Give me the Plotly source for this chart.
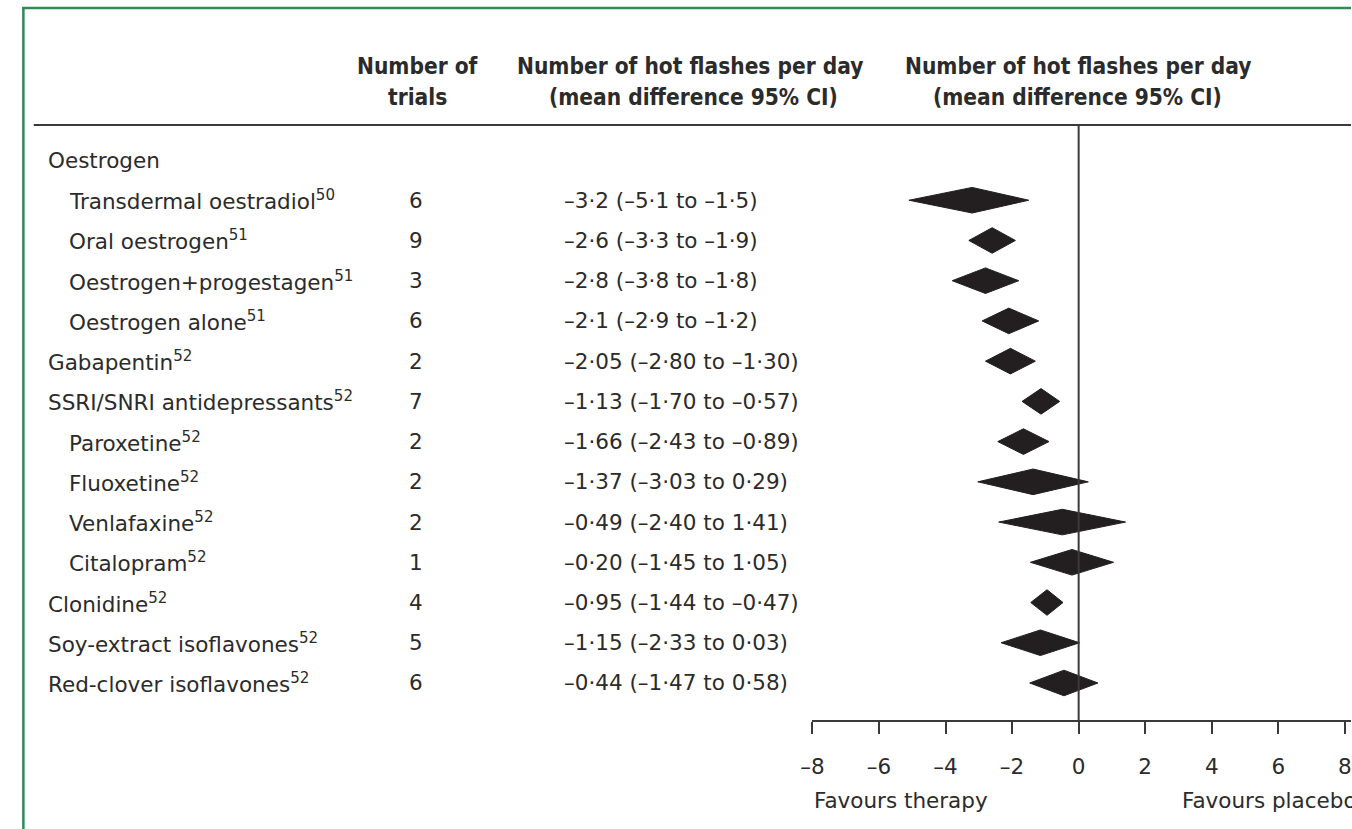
import plotly.graph_objects as go

# ---------------- data ----------------
labels = ["Oestrogen", "Transdermal oestradiol", "Oral oestrogen", "Oestrogen+progestagen",
          "Oestrogen alone", "Gabapentin", "SSRI/SNRI antidepressants", "Paroxetine",
          "Fluoxetine", "Venlafaxine", "Citalopram", "Clonidine",
          "Soy-extract isoflavones", "Red-clover isoflavones"]
refs = ["", "50", "51", "51", "51", "52", "52", "52", "52", "52", "52", "52", "52", "52"]
indent = [0, 1, 1, 1, 1, 0, 0, 1, 1, 1, 1, 0, 0, 0]
n_trials = ["", "6", "9", "3", "6", "2", "7", "2", "2", "2", "1", "4", "5", "6"]
mean_diff = [None, -3.2, -2.6, -2.8, -2.1, -2.05, -1.13, -1.66, -1.37, -0.49, -0.20, -0.95, -1.15, -0.44]
ci_low = [None, -5.1, -3.3, -3.8, -2.9, -2.80, -1.70, -2.43, -3.03, -2.40, -1.45, -1.44, -2.33, -1.47]
ci_high = [None, -1.5, -1.9, -1.8, -1.2, -1.30, -0.57, -0.89, 0.29, 1.41, 1.05, -0.47, 0.03, 0.58]
ci_text = ["", "–3·2 (–5·1 to –1·5)", "–2·6 (–3·3 to –1·9)", "–2·8 (–3·8 to –1·8)",
           "–2·1 (–2·9 to –1·2)", "–2·05 (–2·80 to –1·30)", "–1·13 (–1·70 to –0·57)",
           "–1·66 (–2·43 to –0·89)", "–1·37 (–3·03 to 0·29)", "–0·49 (–2·40 to 1·41)",
           "–0·20 (–1·45 to 1·05)", "–0·95 (–1·44 to –0·47)", "–1·15 (–2·33 to 0·03)",
           "–0·44 (–1·47 to 0·58)"]
tick_vals = [-8, -6, -4, -2, 0, 2, 4, 6, 8]
tick_text = ["–8", "–6", "–4", "–2", "0", "2", "4", "6", "8"]

# ---------------- layout constants ----------------
W, H = 1352, 829
X0PX, PXU = 1077, 33.6            # pixel of x=0, pixels per unit
ROW0PX, ROWPX = 160, 40.23        # pixel of first row, spacing
HALF_H = 12.8 / ROWPX             # diamond half height in row units
TXT = "#2b2b2b"
BODY_FONT = "DejaVu Sans"
HEAD_FONT = "DejaVu Sans Condensed, Roboto Condensed, Roboto, sans-serif"
FS = 21.5
HFS = 22.5

def px(p):   # horizontal pixel -> paper
    return p / W

def py(p):   # vertical pixel -> paper
    return 1 - p / H

rows = list(range(len(labels)))

# diamonds
dx, dy = [], []
for i in rows:
    if mean_diff[i] is None:
        continue
    dx += [ci_low[i], mean_diff[i], ci_high[i], mean_diff[i], ci_low[i], None]
    dy += [i, i - HALF_H, i, i + HALF_H, i, None]

fig = go.Figure()
fig.add_trace(go.Scatter(x=dx, y=dy, mode="lines", fill="toself",
                         fillcolor="#231f20", line=dict(color="#231f20", width=1),
                         hoverinfo="skip", showlegend=False))

ann = []
for i in rows:
    lab = labels[i] + (f"<sup>{refs[i]}</sup>" if refs[i] else "")
    ann.append(dict(x=px(34 + 22 * indent[i]), xref="paper", y=i, yref="y",
                    text=lab, showarrow=False, xanchor="left", yanchor="middle",
                    font=dict(family=BODY_FONT, size=FS, color=TXT)))
    if n_trials[i]:
        ann.append(dict(x=px(408), xref="paper", y=i, yref="y", text=n_trials[i],
                        showarrow=False, xanchor="center", yanchor="middle",
                        font=dict(family=BODY_FONT, size=FS, color=TXT)))
    if ci_text[i]:
        ann.append(dict(x=px(555), xref="paper", y=i, yref="y", text=ci_text[i],
                        showarrow=False, xanchor="left", yanchor="middle",
                        font=dict(family=BODY_FONT, size=FS, color=TXT)))

headers = [(409, 66, "Number of"), (409, 97, "trials"),
           (685, 66, "Number of hot flashes per day"), (688, 97, "(mean difference 95% CI)"),
           (1076, 66, "Number of hot flashes per day"), (1076, 97, "(mean difference 95% CI)")]
for hx, hy, t in headers:
    ann.append(dict(x=px(hx), xref="paper", y=py(hy), yref="paper", text=f"<b>{t}</b>",
                    showarrow=False, xanchor="center", yanchor="middle",
                    font=dict(family=HEAD_FONT, size=HFS, color=TXT)))

ann.append(dict(x=-8, xref="x", y=py(800), yref="paper", text="Favours therapy",
                showarrow=False, xanchor="left", yanchor="middle",
                font=dict(family=BODY_FONT, size=FS, color=TXT)))
ann.append(dict(x=(1179 - X0PX) / PXU, xref="x", y=py(800), yref="paper", text="Favours placebo",
                showarrow=False, xanchor="left", yanchor="middle",
                font=dict(family=BODY_FONT, size=FS, color=TXT)))

shapes = [
    # header rule
    dict(type="line", xref="paper", yref="paper", x0=px(22), x1=1, y0=py(125), y1=py(125),
         line=dict(color="#3a3a3a", width=2)),
    # zero line
    dict(type="line", xref="x", yref="paper", x0=0, x1=0, y0=py(125), y1=py(721),
         line=dict(color="#3a3a3a", width=2)),
    # green frame
    dict(type="line", xref="paper", yref="paper", x0=px(11.5), x1=px(11.5), y0=py(7), y1=0,
         line=dict(color="#2e8b57", width=2.5)),
    dict(type="line", xref="paper", yref="paper", x0=px(10.3), x1=1, y0=py(8), y1=py(8),
         line=dict(color="#2e8b57", width=2.5)),
]

fig.update_layout(
    width=W, height=H, margin=dict(l=0, r=0, t=0, b=0),
    paper_bgcolor="white", plot_bgcolor="rgba(0,0,0,0)",
    annotations=ann, shapes=shapes, showlegend=False,
    xaxis=dict(domain=[px(X0PX - 8 * PXU), 1], range=[-8, (W - X0PX) / PXU],
               anchor="free", position=py(721),
               showline=True, linecolor="#3a3a3a", linewidth=2,
               ticks="outside", ticklen=12, tickwidth=1.8, tickcolor="#3a3a3a",
               tickvals=tick_vals, ticktext=tick_text, ticklabelstandoff=14,
               ticklabeloverflow="allow",
               tickfont=dict(family=BODY_FONT, size=FS, color=TXT),
               showgrid=False, zeroline=False, fixedrange=True),
    yaxis=dict(domain=[0, 1], range=[(H - ROW0PX) / ROWPX, -ROW0PX / ROWPX],
               visible=False, showgrid=False, zeroline=False, fixedrange=True),
)

fig.write_html("out.html", config={"displayModeBar": False},
               post_script="document.body.style.margin='0';document.body.style.padding='0';"
                           "document.body.style.overflow='hidden';")
